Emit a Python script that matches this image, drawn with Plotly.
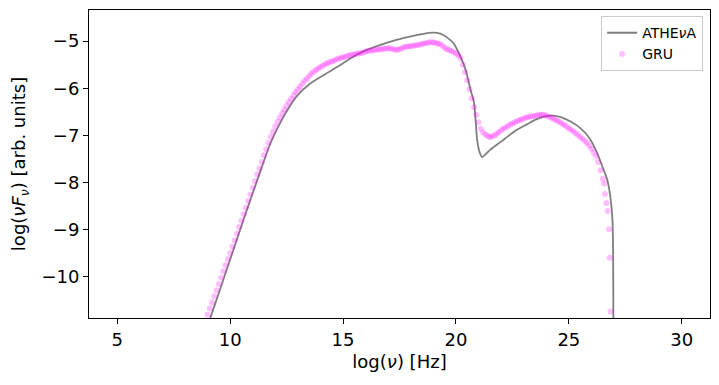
import plotly.graph_objects as go

# ATHEvA model curve (log nu, log nuFnu)
athena_logv = [8.5, 9.12, 9.5, 10.0, 10.74, 11.2, 11.78, 12.2, 12.51, 13.0, 13.55, 14.0,
               14.73, 15.0, 15.6, 16.2, 16.8, 17.4, 18.0, 18.5, 19.0, 19.3, 19.6, 19.9,
               20.2, 20.43, 20.65, 20.8, 20.94, 21.05, 21.16, 21.5, 22.0, 22.27, 22.7,
               23.16, 23.5, 23.9, 24.3, 24.64, 25.1, 25.52, 25.9, 26.26, 26.5, 26.7,
               26.85, 26.93, 26.96, 26.97, 26.98]
athena_logF = [-11.75, -10.87, -10.34, -9.63, -8.58, -7.95, -7.17, -6.75, -6.48, -6.14,
               -5.90, -5.76, -5.55, -5.47, -5.29, -5.16, -5.06, -4.97, -4.90, -4.85, -4.82,
               -4.84, -4.92, -5.05, -5.33, -5.61, -6.04, -6.30, -7.10, -7.36, -7.46, -7.31,
               -7.13, -7.03, -6.88, -6.76, -6.67, -6.60, -6.58, -6.61, -6.71, -6.85, -7.05,
               -7.38, -7.68, -7.94, -8.35, -8.79, -9.50, -10.84, -12.0]

# GRU prediction points
gru_logv = [8.9, 9.0, 9.1, 9.2, 9.3, 9.4, 9.5, 9.6, 9.7, 9.8, 9.9, 10.0, 10.1, 10.2, 10.3,
            10.4, 10.5, 10.6, 10.7, 10.8, 10.9, 11.0, 11.1, 11.2, 11.3, 11.4, 11.5, 11.6,
            11.7, 11.8, 11.9, 12.0, 12.1, 12.2, 12.3, 12.4, 12.5, 12.6, 12.7, 12.8, 12.9,
            13.0, 13.1, 13.2, 13.3, 13.4, 13.5, 13.6, 13.7, 13.8, 13.9, 14.0, 14.1, 14.2,
            14.3, 14.4, 14.5, 14.6, 14.7, 14.8, 14.9, 15.0, 15.1, 15.2, 15.3, 15.4, 15.5,
            15.6, 15.7, 15.8, 15.9, 16.0, 16.1, 16.2, 16.3, 16.4, 16.5, 16.6, 16.7, 16.8,
            16.9, 17.0, 17.1, 17.2, 17.3, 17.4, 17.5, 17.6, 17.7, 17.8, 17.9, 18.0, 18.1,
            18.2, 18.3, 18.4, 18.5, 18.6, 18.7, 18.8, 18.9, 19.0, 19.1, 19.2, 19.3, 19.4,
            19.5, 19.6, 19.7, 19.8, 19.9, 20.0, 20.1, 20.2, 20.3, 20.4, 20.5, 20.6, 20.7,
            20.8, 20.9, 21.0, 21.1, 21.2, 21.3, 21.4, 21.5, 21.6, 21.7, 21.8, 21.9, 22.0,
            22.1, 22.2, 22.3, 22.4, 22.5, 22.6, 22.7, 22.8, 22.9, 23.0, 23.1, 23.2, 23.3,
            23.4, 23.5, 23.6, 23.7, 23.8, 23.9, 24.0, 24.1, 24.2, 24.3, 24.4, 24.5, 24.6,
            24.7, 24.8, 24.9, 25.0, 25.1, 25.2, 25.3, 25.4, 25.5, 25.6, 25.7, 25.8, 25.9,
            26.0, 26.1, 26.2, 26.3, 26.4, 26.5, 26.56, 26.6, 26.66, 26.72, 26.78, 26.81,
            26.85]
gru_logF = [-10.93, -10.80, -10.67, -10.54, -10.41, -10.28, -10.15, -10.01, -9.88, -9.75,
            -9.62, -9.49, -9.36, -9.22, -9.08, -8.94, -8.81, -8.67, -8.53, -8.39, -8.25,
            -8.11, -7.97, -7.83, -7.70, -7.56, -7.42, -7.29, -7.16, -7.03, -6.92, -6.81,
            -6.71, -6.62, -6.53, -6.45, -6.37, -6.29, -6.22, -6.15, -6.08, -6.02, -5.96,
            -5.90, -5.84, -5.79, -5.74, -5.69, -5.65, -5.61, -5.58, -5.55, -5.52, -5.49,
            -5.47, -5.45, -5.43, -5.41, -5.39, -5.37, -5.36, -5.34, -5.33, -5.31, -5.30,
            -5.29, -5.28, -5.27, -5.26, -5.25, -5.24, -5.22, -5.21, -5.20, -5.20, -5.19,
            -5.18, -5.18, -5.17, -5.16, -5.16, -5.15, -5.15, -5.17, -5.18, -5.19, -5.17,
            -5.15, -5.13, -5.12, -5.11, -5.11, -5.10, -5.09, -5.08, -5.07, -5.06, -5.05,
            -5.04, -5.03, -5.02, -5.03, -5.04, -5.05, -5.06, -5.10, -5.14, -5.17, -5.19,
            -5.21, -5.23, -5.26, -5.30, -5.36, -5.50, -5.66, -5.83, -6.02, -6.21, -6.40,
            -6.56, -6.72, -6.86, -6.93, -6.98, -7.01, -7.03, -7.02, -7.00, -6.97, -6.93,
            -6.89, -6.86, -6.83, -6.80, -6.77, -6.75, -6.72, -6.70, -6.68, -6.66, -6.64,
            -6.62, -6.61, -6.60, -6.59, -6.58, -6.57, -6.56, -6.56, -6.56, -6.58, -6.60,
            -6.62, -6.64, -6.67, -6.69, -6.72, -6.75, -6.78, -6.81, -6.85, -6.88, -6.91,
            -6.95, -6.99, -7.03, -7.07, -7.11, -7.16, -7.22, -7.28, -7.36, -7.44, -7.56,
            -7.74, -7.92, -8.02, -8.24, -8.43, -8.60, -8.99, -9.59, -10.73]

xticks = [5, 10, 15, 20, 25, 30]
yticks = [-10, -9, -8, -7, -6, -5]

fig = go.Figure()
fig.add_trace(go.Scatter(x=athena_logv, y=athena_logF, mode="lines", name="ATHE<i>ν</i>A",
                         line=dict(color="rgba(0,0,0,0.5)", width=1.8,
                                   shape="spline", smoothing=0.6)))
fig.add_trace(go.Scatter(x=gru_logv, y=gru_logF, mode="markers", name="GRU",
                         marker=dict(color="rgba(255,0,255,0.25)", size=6,
                                     line=dict(width=0))))

axis_style = dict(showline=True, linecolor="black", linewidth=1, mirror=True,
                  ticks="outside", ticklen=5, tickwidth=1, tickcolor="black",
                  showgrid=False, zeroline=False, automargin=False,
                  tickfont=dict(size=18, color="black"))

fig.update_xaxes(range=[3.75, 31.25], tickvals=xticks,
                 title=dict(text="log(<i>ν</i>) [Hz]", font=dict(size=18, color="black"),
                            standoff=6),
                 **axis_style)
fig.update_yaxes(range=[-10.87, -4.34], tickvals=yticks,
                 title=dict(text="log(<i>νF</i><sub><i>ν</i></sub>) [arb. units]",
                            font=dict(size=18, color="black"), standoff=12),
                 **axis_style)

# page body has an 8px margin, so the figure is sized to fit inside it
fig.update_layout(
    width=703, height=369,
    margin=dict(l=81, r=1, t=2, b=59),
    plot_bgcolor="white", paper_bgcolor="white",
    font=dict(family="DejaVu Sans", color="black"),
    legend=dict(x=0.989, y=0.98, xanchor="right", yanchor="top",
                bordercolor="#cccccc", borderwidth=1, bgcolor="rgba(255,255,255,0.8)",
                font=dict(size=14), tracegroupgap=0),
)

fig.write_html("out.html")
